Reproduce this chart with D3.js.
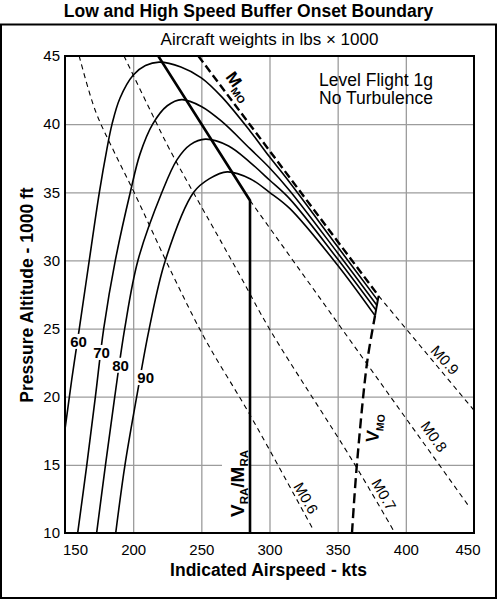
<!DOCTYPE html>
<html>
<head>
<meta charset="utf-8">
<script src="https://cdn.jsdelivr.net/npm/d3@7"></script>
<style>
  body { margin: 0; background: #fff; }
  svg { display: block; font-family: "Liberation Sans", Arial, Helvetica, sans-serif; }
</style>
</head>
<body>
<svg id="chart" width="497" height="600"></svg>
<script>
// ---- data: [indicated airspeed kts, pressure altitude 1000 ft] ----
var weights = [60, 70, 80, 90];
var curve60 = [[150,17.6],[155,21.3],[160.5,25],[167.8,30],[175.2,35],[180.6,38.1],[184.5,40],[190.3,41.9],[200.1,43.6],[209,44.3],[219,44.55],[235,44.2],[250,43.4],[265,42.0],[285.7,39.5],[300,37.6],[315,35.7],[350,31.0],[379.6,27.05]];
var curve70 = [[159.3,10],[166,15],[172.3,20],[178.4,25],[186.9,30],[197.9,35],[205,37.8],[214.3,40],[225,41.35],[235.6,41.8],[250,41.3],[265,40.2],[285.7,38.2],[300,36.8],[315,35.1],[350,30.55],[378.9,26.7]];
var curve80 = [[173.2,10],[179.7,15],[186.5,20],[193.8,25],[203.5,30],[221.1,35],[232.2,37.4],[242,38.5],[253,38.9],[270,38.4],[285.7,37.2],[300,35.9],[315,34.5],[350,30.1],[378.2,26.35]];
var curve90 = [[187.2,10],[194,15],[202.6,20],[211.8,25],[223.6,30],[244.4,35],[256,36.0],[269,36.5],[285.7,36.0],[300,35.0],[315,33.8],[350,29.65],[377.4,25.95]];

var mach06 = [[160.4,45],[172.2,41.0],[185.4,38.1],[200.4,35.05],[229.2,28.9],[252.9,24.2],[285.7,18.66],[331.2,10.4]];
var mach07 = [[193.3,45],[212.6,41.0],[227,38.1],[265.2,31.25],[279.4,28.7],[300.4,24.9],[361.5,15.2],[392,10]];
var mach08 = [[285.7,34.4],[445.6,12.05]];
var mach09 = [[380,27.4],[450,19.0]];
var mmoLine = [[247.8,45],[380,27.4]];
var vmoLine = [[360.5,10],[364,14.9],[371.3,22.3],[375.5,24.9],[377.4,25.95]];
var capLine = [[377.4,25.95],[380,27.4]];
var vraLine = [[218.4,45],[285.7,34.4],[285.7,10]];

var xTicks = [150, 200, 250, 300, 350, 400, 450];
var yTicks = [10, 15, 20, 25, 30, 35, 40, 45];
var machNames = ['M0.6', 'M0.7', 'M0.8', 'M0.9'];

// ---- layout ----
var svg = d3.select('#chart');
var plotL = 65, plotR = 474, plotT = 56, plotB = 533;

var x = d3.scaleLinear().domain([150, 450]).range([plotL, plotR]);
var y = d3.scaleLinear().domain([10, 45]).range([plotB, plotT]);

var line = d3.line()
  .x(function(d) { return x(d[0]); })
  .y(function(d) { return y(d[1]); })
  .curve(d3.curveCatmullRom.alpha(0.5));

svg.append('clipPath').attr('id', 'plotclip')
  .append('rect').attr('x', plotL).attr('y', plotT)
  .attr('width', plotR - plotL).attr('height', plotB - plotT);

// outer frame
svg.append('rect')
  .attr('x', 1).attr('y', 24.5).attr('width', 495).attr('height', 573.5)
  .attr('fill', 'none').attr('stroke', '#000').attr('stroke-width', 2);

svg.append('text')
  .attr('x', 248.5).attr('y', 17)
  .attr('text-anchor', 'middle')
  .attr('font-weight', 'bold').attr('font-size', 17.5)
  .text('Low and High Speed Buffer Onset Boundary');

svg.append('text')
  .attr('x', 269.5).attr('y', 45)
  .attr('text-anchor', 'middle')
  .attr('font-size', 17)
  .text('Aircraft weights in lbs \u00d7 1000');

// grid
var gridX = svg.append('g')
  .attr('transform', 'translate(0,' + plotB + ')')
  .call(d3.axisBottom(x).tickValues(xTicks.slice(1, -1)).tickSize(-(plotB - plotT)).tickFormat(''));
var gridY = svg.append('g')
  .attr('transform', 'translate(' + plotL + ',0)')
  .call(d3.axisLeft(y).tickValues(yTicks.slice(1, -1)).tickSize(-(plotR - plotL)).tickFormat(''));
[gridX, gridY].forEach(function(g) {
  g.select('.domain').remove();
  g.selectAll('line').attr('stroke', '#9c9c9c').attr('stroke-width', 1.3);
});

// tick labels
var xAxis = svg.append('g')
  .attr('transform', 'translate(0,' + plotB + ')')
  .call(d3.axisBottom(x).tickValues(xTicks).tickSize(0));
xAxis.select('.domain').remove();
xAxis.selectAll('text')
  .attr('y', 22).attr('dy', 0)
  .attr('font-size', 15).attr('fill', '#000')
  .attr('font-family', '"Liberation Sans", Arial, sans-serif');
// end labels sit inside the frame
xAxis.selectAll('.tick').filter(function(d) { return d == 150; }).select('text').attr('x', 10);
xAxis.selectAll('.tick').filter(function(d) { return d == 450; }).select('text').attr('x', -6.5);

var yAxis = svg.append('g')
  .attr('transform', 'translate(' + plotL + ',0)')
  .call(d3.axisLeft(y).tickValues(yTicks).tickSize(0).tickPadding(5));
yAxis.select('.domain').remove();
yAxis.selectAll('text')
  .attr('font-size', 15).attr('fill', '#000')
  .attr('font-family', '"Liberation Sans", Arial, sans-serif');

svg.append('text')
  .attr('x', 268.5).attr('y', 576)
  .attr('text-anchor', 'middle')
  .attr('font-weight', 'bold').attr('font-size', 17.5)
  .text('Indicated Airspeed - kts');

svg.append('text')
  .attr('transform', 'translate(33,295) rotate(-90)')
  .attr('text-anchor', 'middle')
  .attr('font-weight', 'bold').attr('font-size', 17.5)
  .text('Pressure Altitude - 1000 ft');

// subscripted label helper: parts = [[text, isSub], ...]
function subLabel(g, parts, big, small) {
  var t = g.append('text').attr('font-weight', 'bold');
  var prevSub = false;
  parts.forEach(function(p) {
    var ts = t.append('tspan').text(p[0]).attr('font-size', p[1] ? small : big);
    if (p[1] && !prevSub) ts.attr('dy', 4);
    if (!p[1] && prevSub) ts.attr('dy', -4);
    prevSub = p[1];
  });
  return t;
}

// V_RA / M_RA label with white backing (breaks the 15 kft grid line)
var vraG = svg.append('g')
  .attr('transform', 'translate(' + (x(285.7) - 6) + ',' + (y(10) - 16) + ') rotate(-90)');
var vraT = subLabel(vraG, [['V', false], ['RA', true], ['/M', false], ['RA', true]], 19, 11.5);
var vb = vraT.node().getBBox();
vraG.insert('rect', 'text')
  .attr('x', vb.x - 2).attr('y', vb.y - 5)
  .attr('width', vb.width + 4).attr('height', vb.height + 5.5)
  .attr('fill', '#fff');

// lines
var plot = svg.append('g').attr('clip-path', 'url(#plotclip)');

[mach06, mach07, mach08, mach09].forEach(function(m) {
  plot.append('path').datum(m)
    .attr('d', line).attr('fill', 'none')
    .attr('stroke', '#000').attr('stroke-width', 1.1)
    .attr('stroke-dasharray', '5,4');
});

[curve60, curve70, curve80, curve90].forEach(function(c) {
  plot.append('path').datum(c)
    .attr('d', line).attr('fill', 'none')
    .attr('stroke', '#000').attr('stroke-width', 1.6);
});

plot.append('path').datum(vraLine)
  .attr('d', d3.line().x(function(d) { return x(d[0]); }).y(function(d) { return y(d[1]); }))
  .attr('fill', 'none').attr('stroke', '#000').attr('stroke-width', 2.6);

plot.append('path').datum(mmoLine)
  .attr('d', line).attr('fill', 'none')
  .attr('stroke', '#000').attr('stroke-width', 2.4)
  .attr('stroke-dasharray', '8,4');

plot.append('path').datum(vmoLine)
  .attr('d', line).attr('fill', 'none')
  .attr('stroke', '#000').attr('stroke-width', 2.4)
  .attr('stroke-dasharray', '10,5');

plot.append('path').datum(capLine)
  .attr('d', line).attr('fill', 'none')
  .attr('stroke', '#000').attr('stroke-width', 2);

// weight labels on the curves
var weightAt = [[159.9,24.05],[176.8,23.24],[190.7,22.3],[209.2,21.4]];
weights.forEach(function(w, i) {
  var g = svg.append('g')
    .attr('transform', 'translate(' + x(weightAt[i][0]) + ',' + y(weightAt[i][1]) + ')');
  var t = g.append('text')
    .attr('text-anchor', 'middle').attr('dy', '0.36em')
    .attr('font-weight', 'bold').attr('font-size', 15)
    .text(w);
  var b = t.node().getBBox();
  g.insert('rect', 'text')
    .attr('x', b.x - 1).attr('y', b.y + 1)
    .attr('width', b.width + 2).attr('height', b.height - 2)
    .attr('fill', '#fff');
});

// Mach labels
var machAt = [[326.8,12.57,60],[384,12.82,60],[420.7,17.08,55],[428.7,22.69,48]];
machNames.forEach(function(m, i) {
  svg.append('text')
    .attr('transform', 'translate(' + x(machAt[i][0]) + ',' + y(machAt[i][1]) + ') rotate(' + machAt[i][2] + ')')
    .attr('text-anchor', 'middle').attr('dy', '0.36em')
    .attr('font-size', 15)
    .text(m);
});

// M_MO and V_MO
subLabel(svg.append('g')
  .attr('transform', 'translate(' + x(267.4) + ',' + y(43.46) + ') rotate(54)'),
  [['M', false], ['MO', true]], 17, 10.5);
subLabel(svg.append('g')
  .attr('transform', 'translate(' + x(379.6) + ',' + y(16.6) + ') rotate(-84)'),
  [['V', false], ['MO', true]], 18, 10.5);

svg.append('text')
  .attr('x', 376).attr('y', 86)
  .attr('text-anchor', 'middle').attr('font-size', 17.5)
  .text('Level Flight 1g');
svg.append('text')
  .attr('x', 376).attr('y', 104.3)
  .attr('text-anchor', 'middle').attr('font-size', 17.5)
  .text('No Turbulence');

// plot frame
svg.append('rect')
  .attr('x', plotL).attr('y', plotT)
  .attr('width', plotR - plotL).attr('height', plotB - plotT)
  .attr('fill', 'none').attr('stroke', '#000').attr('stroke-width', 2);
</script>
</body>
</html>
